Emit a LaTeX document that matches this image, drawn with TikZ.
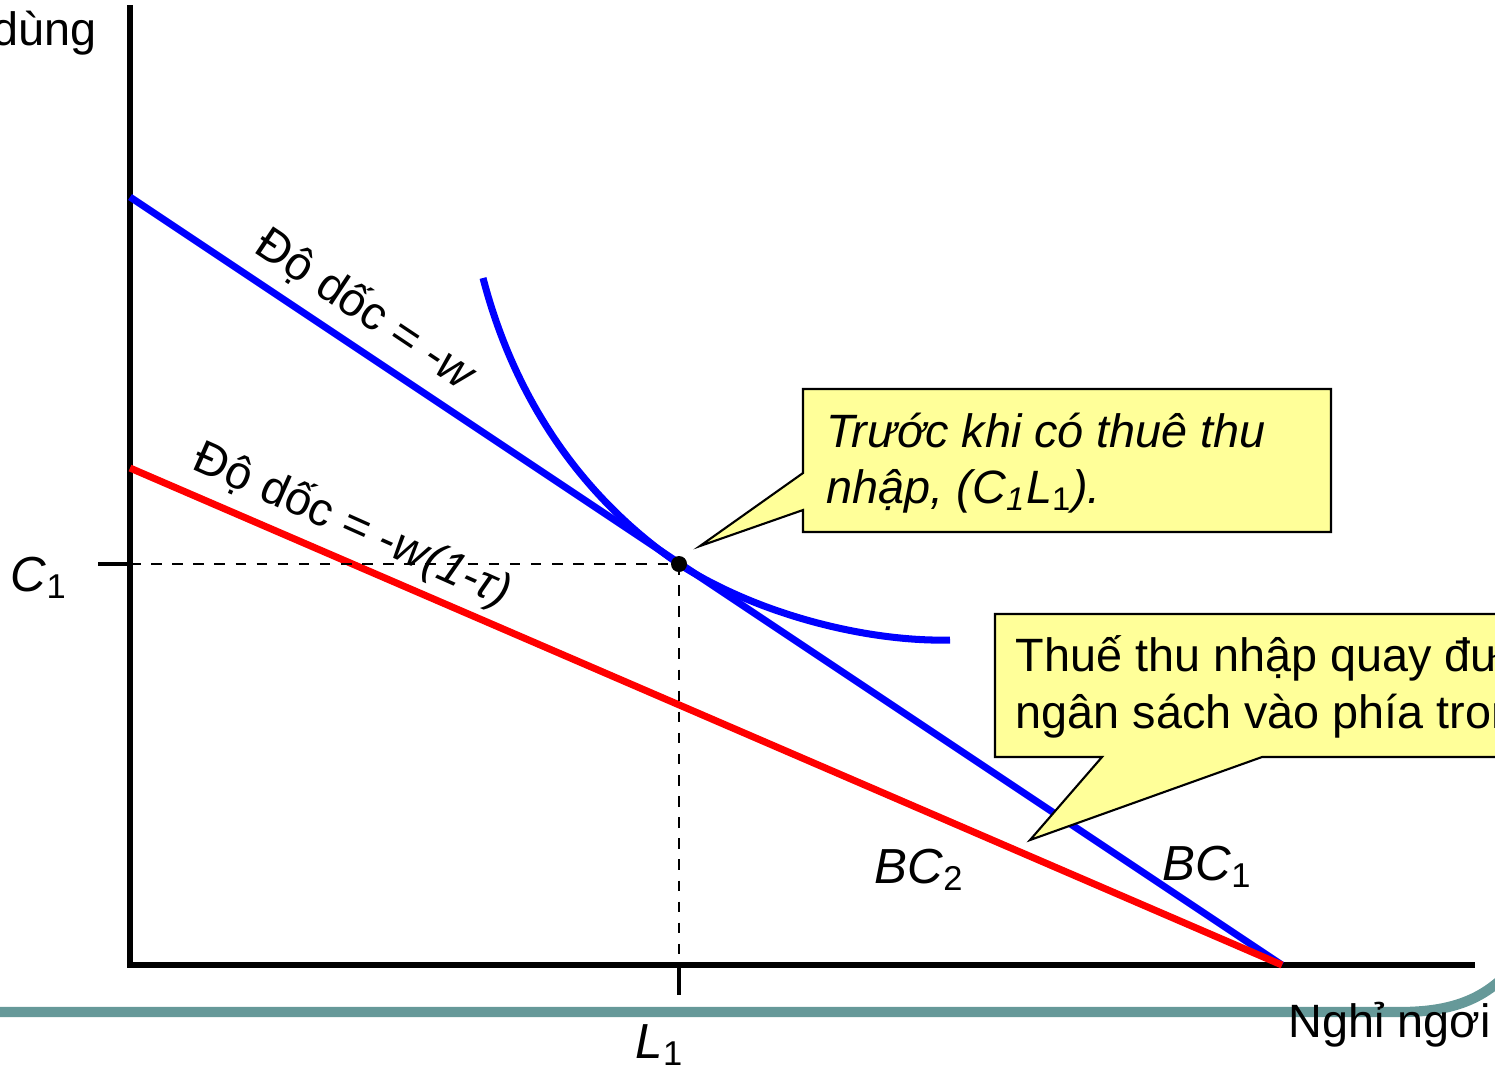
\documentclass[tikz,border=0pt]{standalone}
\usepackage{fontspec}
\setmainfont{Liberation Sans}
\definecolor{bcblue}{RGB}{0,0,255}
\definecolor{bcred}{RGB}{255,0,0}
\definecolor{notefill}{RGB}{255,255,153}
\definecolor{bandteal}{RGB}{102,153,153}
\newcommand{\lblfont}{\fontsize{13.3}{16}\selectfont}
\newcommand{\bigfont}{\fontsize{14}{17}\selectfont}
\tikzset{
  axis/.style={line width=1.45pt},
  tickmark/.style={line width=0.9pt},
  bcone/.style={line width=2pt, draw=bcblue},
  bctwo/.style={line width=2pt, draw=bcred},
  guide/.style={line width=0.45pt, dashed},
  band/.style={line width=2.9pt, draw=bandteal},
  note/.style={draw, line width=0.6pt, fill=notefill},
  txt/.style={font=\lblfont, inner sep=0pt},
  big/.style={font=\bigfont, inner sep=0pt},
  dot/.style={circle, fill=black, inner sep=0pt, minimum size=0.16cm},
}
\begin{document}
\begin{tikzpicture}[x=0.01cm, y=-0.01cm]

\useasboundingbox (0,0) rectangle (1495,1066);
\clip (0,0) rectangle (1495,1066);

% slide band
\draw[band] (0,1012) -- (1400,1012) .. controls (1450,1012) and (1480,1000) .. (1505,976);

% axes
\coordinate (O) at (130,965);
\coordinate (ytop) at (130,5);
\coordinate (xend) at (1475,965);
\draw[axis] (ytop) -- (O) -- (xend);
\node[txt, anchor=base east] (ylab) at (97,45) {Tiêu dùng};
\node[txt, anchor=base west] (xlab) at (1288,1037) {Nghỉ ngơi};

% budget constraints
\coordinate (top1) at (130,197);
\coordinate (top2) at (130,468);
\coordinate (lmax) at (1282,965);
\draw[bcone] (top1) -- (lmax);
\draw[bctwo] (top2) -- (lmax);

% indifference curve
\draw[bcone] (483,278) .. controls (520,420) and (600,510) .. (679,564)
  .. controls (760,616) and (870,642) .. (950,640);

% optimum
\node[dot] (E) at (679,564) {};
\coordinate (cy) at (130,564);
\draw[guide] (cy) -- (E.center);
\draw[guide] (E.center) -- (E.center |- O);
\draw[tickmark] (98,564) -- (cy);
\draw[tickmark] (E.center |- O) -- ++(0,30);
\node[big, anchor=base west] (c1) at (10,591) {\textit{C}\textsubscript{1}};
\node[big, anchor=base west] (l1) at (635,1058) {\textit{L}\textsubscript{1}};

% slopes
\node[txt, rotate=-33.7] (s1) at (366,310) {Độ dốc = \textit{-w}};
\node[txt, rotate=-24] (s2) at (352,526) {Độ dốc = \textit{-w(1-τ)}};
\node[big, anchor=base west] (bc2) at (874,883) {\textit{BC}\textsubscript{2}};
\node[big, anchor=base west] (bc1) at (1162,880) {\textit{BC}\textsubscript{1}};

% callouts
\draw[note] (803,389) -- (1331,389) -- (1331,532) -- (803,532) -- (803,510)
  -- (700,546) -- (803,473) -- cycle;
\node[txt, anchor=base west] (n1a) at (826,447) {\textit{Trước khi có thuê thu}};
\node[txt, anchor=base west] (n1b) at (826,503) {\textit{nhập, (C\textsubscript{1}L}\textsubscript{1}\textit{).}};

\draw[note] (995,614) -- (1520,614) -- (1520,757) -- (1262,757) -- (1030,840)
  -- (1102,757) -- (995,757) -- cycle;
\node[txt, anchor=base west] (n2a) at (1015,671) {Thuế thu nhập quay đường};
\node[txt, anchor=base west] (n2b) at (1015,728) {ngân sách vào phía trong};

\end{tikzpicture}
\end{document}
